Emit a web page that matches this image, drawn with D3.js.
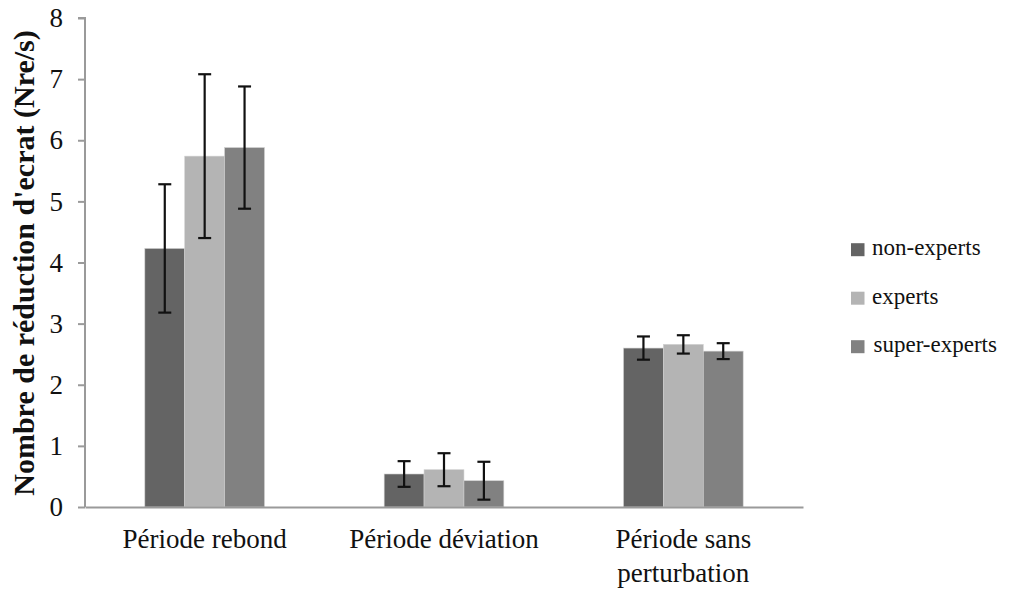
<!DOCTYPE html>
<html>
<head>
<meta charset="utf-8">
<script src="https://cdn.jsdelivr.net/npm/d3@7"></script>
</head>
<body style="margin:0;background:#fff">
<svg id="chart" width="1010" height="590"></svg>
<script>
const categories = ["Période rebond", "Période déviation", "Période sans perturbation"];
const series = ["non-experts", "experts", "super-experts"];
const nonExperts = [4.23, 0.54, 2.60];
const experts = [5.74, 0.61, 2.66];
const superExperts = [5.88, 0.43, 2.55];
const nonExpertsErr = [1.05, 0.21, 0.19];
const expertsErr = [1.34, 0.27, 0.15];
const superExpertsErr = [1.00, 0.31, 0.13];
const yTicks = [0, 1, 2, 3, 4, 5, 6, 7, 8];
const colors = ["#646464", "#b4b4b4", "#818181"];

const values = [nonExperts, experts, superExperts];
const errors = [nonExpertsErr, expertsErr, superExpertsErr];
const FONT = "Liberation Serif";

const svg = d3.select("#chart");
const mLeft = 85, mRight = 803, mTop = 18, mBottom = 507;

const x = d3.scaleBand().domain(categories).range([mLeft, mRight]).paddingInner(0).paddingOuter(0);
const xs = d3.scaleBand().domain(series).range([0, x.bandwidth()]).paddingInner(0).paddingOuter(1.5);
const y = d3.scaleLinear().domain([0, 8]).range([mBottom, mTop]);

// y axis
const yAxis = svg.append("g").attr("transform", `translate(${mLeft},0)`)
  .call(d3.axisLeft(y).tickValues(yTicks).tickSize(7).tickPadding(15).tickFormat(d3.format("d")));
yAxis.attr("font-family", FONT);
yAxis.select(".domain").attr("stroke", "#9a9a9a").attr("stroke-width", 2).attr("d", `M-7,${mTop}H0V${mBottom}`);
yAxis.selectAll(".tick line").attr("stroke", "#9a9a9a").attr("stroke-width", 2);
yAxis.selectAll(".tick text").attr("font-size", 27).attr("fill", "#111");

// bars
const groups = svg.append("g").selectAll("g").data(categories).join("g")
  .attr("transform", d => `translate(${x(d)},0)`);
series.forEach((s, si) => {
  groups.append("rect")
    .attr("x", xs(s)).attr("width", xs.bandwidth())
    .attr("y", (d, ci) => y(values[si][ci]))
    .attr("height", (d, ci) => y(0) - y(values[si][ci]))
    .attr("fill", colors[si]).attr("stroke", "#d0d0d0").attr("stroke-width", 0.6);
});
// error bars
series.forEach((s, si) => {
  const cx = xs(s) + xs.bandwidth() / 2;
  const eg = groups.append("g").attr("stroke", "#111").attr("stroke-width", 2.2);
  eg.append("line").attr("x1", cx).attr("x2", cx)
    .attr("y1", (d, ci) => y(values[si][ci] + errors[si][ci]))
    .attr("y2", (d, ci) => y(values[si][ci] - errors[si][ci]));
  eg.append("line").attr("x1", cx - 6.5).attr("x2", cx + 6.5)
    .attr("y1", (d, ci) => y(values[si][ci] + errors[si][ci]))
    .attr("y2", (d, ci) => y(values[si][ci] + errors[si][ci]));
  eg.append("line").attr("x1", cx - 6.5).attr("x2", cx + 6.5)
    .attr("y1", (d, ci) => y(values[si][ci] - errors[si][ci]))
    .attr("y2", (d, ci) => y(values[si][ci] - errors[si][ci]));
});

// x axis
const xAxis = svg.append("g").attr("transform", `translate(0,${mBottom})`)
  .call(d3.axisBottom(x).tickSize(0).tickPadding(22));
xAxis.attr("font-family", FONT);
xAxis.select(".domain").attr("stroke", "#9a9a9a").attr("stroke-width", 2);
xAxis.selectAll(".tick text").attr("font-size", 27).attr("fill", "#111")
  .each(function(d) {
    const t = d3.select(this);
    if (d === "Période sans perturbation") {
      t.text(null);
      t.append("tspan").attr("x", 0).attr("dy", "0.71em").text("Période sans");
      t.append("tspan").attr("x", 0).attr("dy", "1.26em").text("perturbation");
      t.attr("dy", null);
    }
  });

// y title
svg.append("text")
  .attr("transform", `translate(34,263) rotate(-90)`)
  .attr("text-anchor", "middle")
  .attr("font-size", 30).attr("font-weight", "bold").attr("fill", "#111")
  .attr("font-family", FONT)
  .text("Nombre de réduction d'ecrat (Nre/s)");

// legend
const legend = svg.append("g").attr("transform", "translate(851,249.7)");
series.forEach((s, i) => {
  const g = legend.append("g").attr("transform", `translate(0,${i * 48.5})`);
  g.append("rect").attr("x", 0).attr("y", -6.5).attr("width", 13.5).attr("height", 13).attr("fill", colors[i]);
  g.append("text").attr("x", i === 2 ? 22.5 : 21).attr("y", 5.5).attr("font-size", 23)
    .attr("fill", "#111").attr("font-family", FONT).text(s);
});
</script>
</body>
</html>
